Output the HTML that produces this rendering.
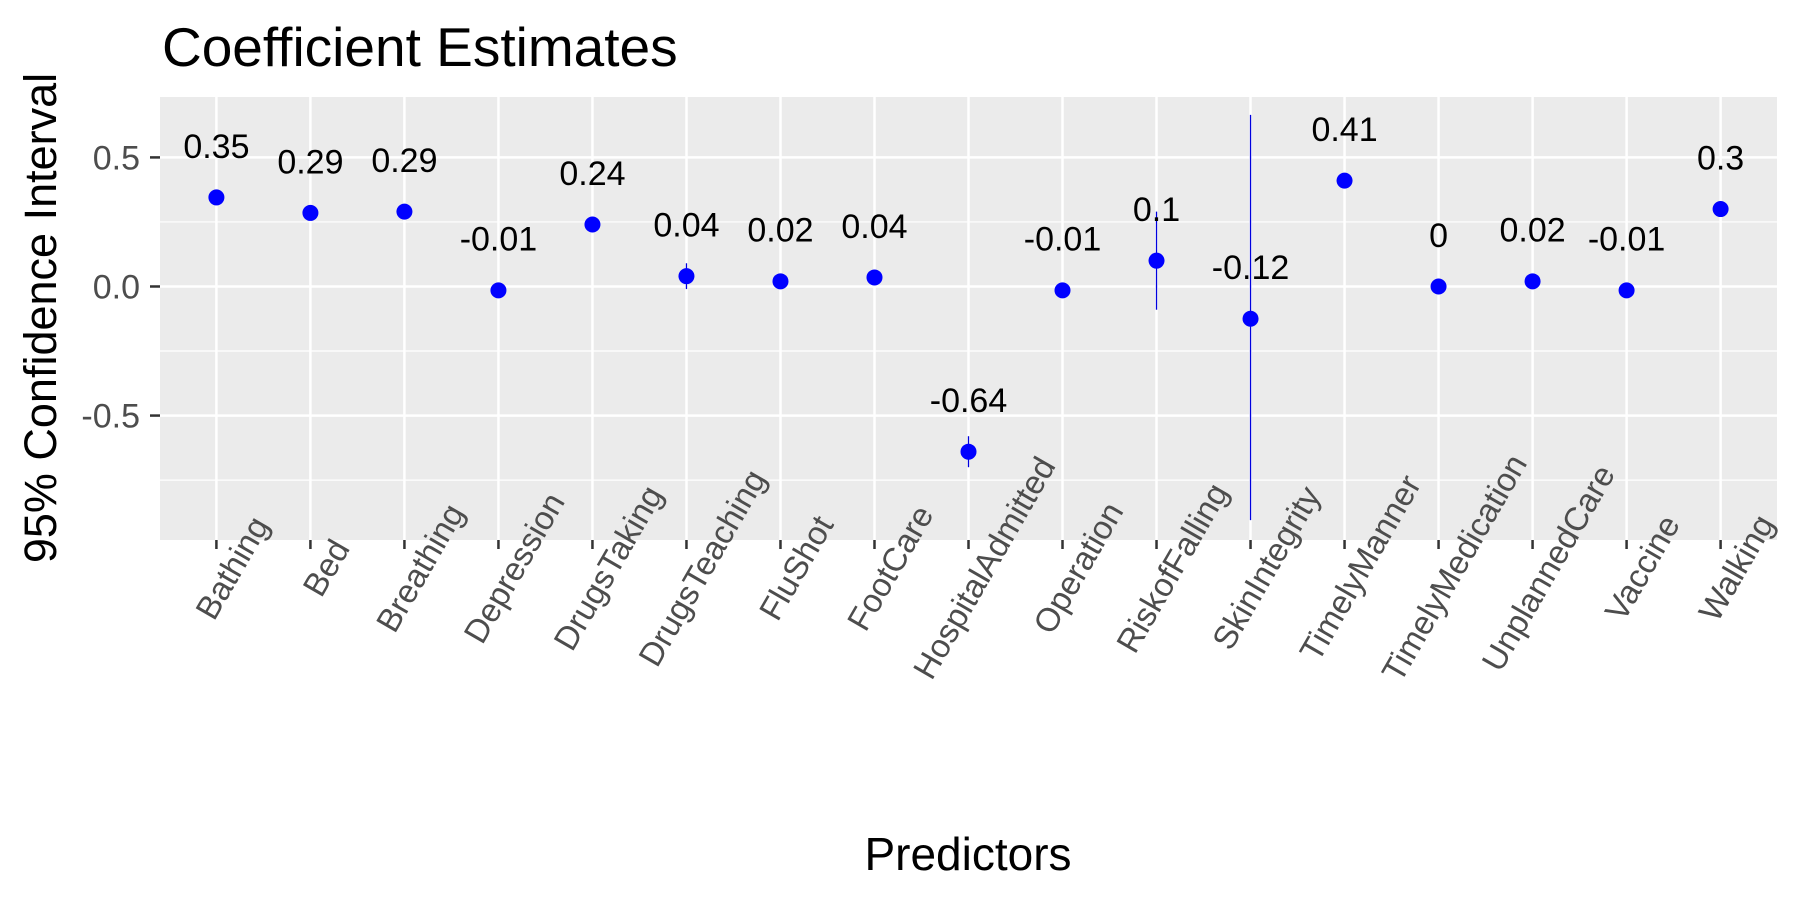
<!DOCTYPE html>
<html><head><meta charset="utf-8"><style>
body{margin:0;background:#fff;}
svg{display:block;font-family:"Liberation Sans",Arial,sans-serif;}
</style></head><body>
<svg id="chart" width="1800" height="900" viewBox="0 0 1800 900">
<text x="162" y="66" font-size="55" fill="#000">Coefficient Estimates</text>
<rect x="160" y="97" width="1617" height="443" fill="#ebebeb"/>
<g id="grid"></g><g id="marks"></g><g id="axes"></g>
<text transform="translate(56,318) rotate(-90)" text-anchor="middle" font-size="45" fill="#000">95% Confidence Interval</text>
<text x="968" y="870" text-anchor="middle" font-size="46" fill="#000">Predictors</text>
</svg>
<script>
const categories=["Bathing","Bed","Breathing","Depression","DrugsTaking","DrugsTeaching","FluShot","FootCare","HospitalAdmitted","Operation","RiskofFalling","SkinIntegrity","TimelyManner","TimelyMedication","UnplannedCare","Vaccine","Walking"];
const estimates=[0.345,0.285,0.29,-0.015,0.24,0.04,0.02,0.035,-0.64,-0.015,0.1,-0.125,0.41,0.0,0.02,-0.015,0.3];
const lower=[0.315,0.275,0.28,-0.025,0.23,-0.01,0.01,0.025,-0.70,-0.025,-0.09,-0.905,0.40,-0.01,0.01,-0.025,0.29];
const upper=[0.375,0.295,0.30,-0.005,0.25,0.09,0.03,0.045,-0.58,-0.005,0.29,0.665,0.42,0.01,0.03,-0.005,0.31];
const pointLabels=["0.35","0.29","0.29","-0.01","0.24","0.04","0.02","0.04","-0.64","-0.01","0.1","-0.12","0.41","0","0.02","-0.01","0.3"];
const yTicks=[-0.5,0,0.5];
const yTickLabels=["-0.5","0.0","0.5"];
const yMinor=[-0.75,-0.25,0.25];
const NS="http://www.w3.org/2000/svg";
const L=160,R=1777,T=97,B=540;
const yMin=-0.982,yMax=0.734;
function ys(v){return B-(v-yMin)/(yMax-yMin)*(B-T);}
const step=(R-L)/(categories.length-1+1.2);
function xs(i){return L+step*(0.6+i);}
function mk(tag,attrs,parent){const e=document.createElementNS(NS,tag);for(const k in attrs)e.setAttribute(k,attrs[k]);parent.appendChild(e);return e;}
const grid=document.getElementById('grid'),marks=document.getElementById('marks'),axes=document.getElementById('axes');
yMinor.forEach(v=>{const l=mk('line',{x1:L,x2:R,y1:ys(v),y2:ys(v),stroke:'#fff','stroke-width':1.2},grid);

});
categories.forEach((c,i)=>{const x=xs(i);
const g=mk('line',{x1:x,x2:x,y1:T,y2:B,stroke:'#fff','stroke-width':2.5},grid);

});
yTicks.forEach((v,i)=>{const l=mk('line',{x1:L,x2:R,y1:ys(v),y2:ys(v),stroke:'#fff','stroke-width':2.5},grid);


const t=mk('line',{x1:L-10,x2:L,y1:ys(v),y2:ys(v),stroke:'#333','stroke-width':2.5},axes);


const tx=mk('text',{x:L-20,y:ys(v)+12,'text-anchor':'end','font-size':34,fill:'#4d4d4d'},axes);
tx.textContent=yTickLabels[i];

});
categories.forEach((c,i)=>{const x=xs(i);
const t=mk('line',{x1:x,x2:x,y1:B,y2:B+9,stroke:'#333','stroke-width':2.5},axes);


const cx=x+16,cy=568;
const tx=mk('text',{x:cx,y:cy+11,'text-anchor':'middle','font-size':33,fill:'#4d4d4d',transform:`rotate(-60 ${cx} ${cy})`},axes);
tx.textContent=c;


const eb=mk('line',{x1:x,x2:x,y1:ys(lower[i]),y2:ys(upper[i]),stroke:'#0000dd','stroke-width':1.3},marks);


const p=mk('circle',{cx:x,cy:ys(estimates[i]),r:8,fill:'#0000ff'},marks);


const lb=mk('text',{x:x,y:ys(estimates[i]+0.2)+12,'text-anchor':'middle','font-size':34,fill:'#000'},marks);
lb.textContent=pointLabels[i];

});
</script>
</body></html>
